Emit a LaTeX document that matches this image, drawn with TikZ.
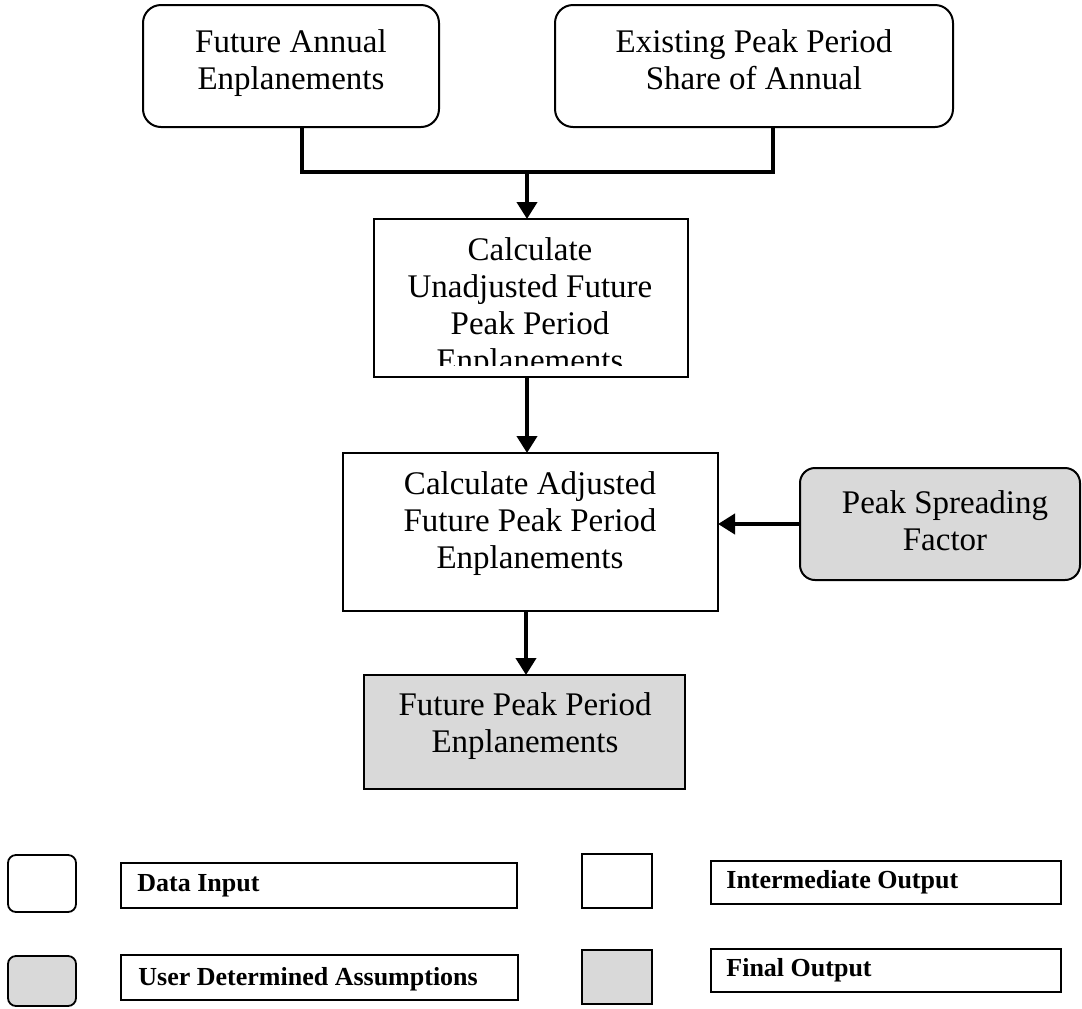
\documentclass[tikz,border=0pt]{standalone}
\usepackage{fontspec}
\setmainfont{Liberation Serif}
\usetikzlibrary{arrows.meta}
\definecolor{shade}{HTML}{D9D9D9}
\begin{document}
\begin{tikzpicture}[x=1pt,y=-1pt,
  boxbase/.style={draw=black, line width=1pt, inner sep=0pt, outer sep=0pt, anchor=north west},
  inputbox/.style={boxbase, rounded corners=9pt},
  assumebox/.style={boxbase, rounded corners=7.5pt, fill=shade},
  stepbox/.style={boxbase},
  finalbox/.style={boxbase, fill=shade},
  keybox/.style={boxbase, line width=0.9pt},
  boxtext/.style={anchor=north, inner sep=0pt, align=center, font=\fontsize{16.5}{18.5}\selectfont},
  legtext/.style={anchor=base west, inner sep=0pt, font=\fontsize{13}{15}\selectfont\bfseries},
  flow/.style={line width=2pt, -{Triangle[width=10pt,length=8.5pt]}},
  joinline/.style={line width=2pt, line join=miter},
]
\useasboundingbox (0,0) rectangle (541,504);

% inputs
\node[inputbox, minimum width=148pt, minimum height=61pt] (fae) at (71.5,2.5) {};
\node[boxtext] (faet) at (145.5,14.8) {Future Annual\\Enplanements};
\node[inputbox, minimum width=199pt, minimum height=61pt] (epp) at (277.5,2.5) {};
\node[boxtext] (eppt) at (377,14.8) {Existing Peak Period\\Share of Annual};

% unadjusted estimate (text overflows the frame and is cut)
\node[stepbox, minimum width=157pt, minimum height=79pt] (unadj) at (187,109.5) {};
\begin{scope}
  \clip (187.5,110) rectangle (343.5,182.5);
  \node[boxtext] (unadjt) at (265,118.8) {Calculate\\Unadjusted Future\\Peak Period\\Enplanements};
\end{scope}

% adjusted estimate
\node[stepbox, minimum width=187.5pt, minimum height=79pt] (adj) at (171.5,226.5) {};
\node[boxtext] (adjt) at (265,235.8) {Calculate Adjusted\\Future Peak Period\\Enplanements};

% assumption
\node[assumebox, minimum width=140pt, minimum height=56pt] (psf) at (400,234) {};
\node[boxtext] (psft) at (472.5,245.3) {Peak Spreading\\Factor};

% final output
\node[finalbox, minimum width=160.5pt, minimum height=57pt] (fpp) at (182,337.5) {};
\node[boxtext] (fppt) at (262.5,346.3) {Future Peak Period\\Enplanements};

% connectors
\coordinate (faeout) at ([xshift=5.5pt]fae.south);
\coordinate (eppout) at ([xshift=9.5pt]epp.south);
\coordinate (merge) at (263.5,86);
\draw[joinline] (faeout) -- (faeout |- merge) -- (eppout |- merge) -- (eppout);
\draw[flow] (merge) -- (merge |- unadj.north);
\coordinate (unadjout) at ([xshift=-2pt]unadj.south);
\draw[flow] (unadjout) -- (unadjout |- adj.north);
\draw[flow] (psf.west) -- (psf.west -| adj.east);
\coordinate (adjout) at ([xshift=-2.25pt]adj.south);
\draw[flow] (adjout) -- (adjout |- fpp.north);

% key
\node[inputbox, line width=0.9pt, rounded corners=4pt, minimum width=34pt, minimum height=28.5pt] (keyinput) at (4,427.5) {};
\node[keybox, minimum width=198pt, minimum height=22.5pt] (keyinputbox) at (60.5,431.5) {};
\node[legtext] (keyinputt) at (68.5,445.5) {Data Input};

\node[assumebox, line width=0.9pt, rounded corners=4pt, minimum width=34pt, minimum height=25pt] (keyassume) at (4,478) {};
\node[keybox, minimum width=198.5pt, minimum height=22.5pt] (keyassumebox) at (60.5,477.5) {};
\node[legtext] (keyassumet) at (69,492.5) {User Determined Assumptions};

\node[keybox, minimum width=35pt, minimum height=27pt] (keystep) at (291,427) {};
\node[keybox, minimum width=175pt, minimum height=21.5pt] (keystepbox) at (355.5,430.5) {};
\node[legtext] (keystept) at (363,444) {Intermediate Output};

\node[keybox, fill=shade, minimum width=35pt, minimum height=27pt] (keyfinal) at (291,475) {};
\node[keybox, minimum width=175pt, minimum height=21.5pt] (keyfinalbox) at (355.5,474.5) {};
\node[legtext] (keyfinalt) at (363,488) {Final Output};
\end{tikzpicture}
\end{document}
